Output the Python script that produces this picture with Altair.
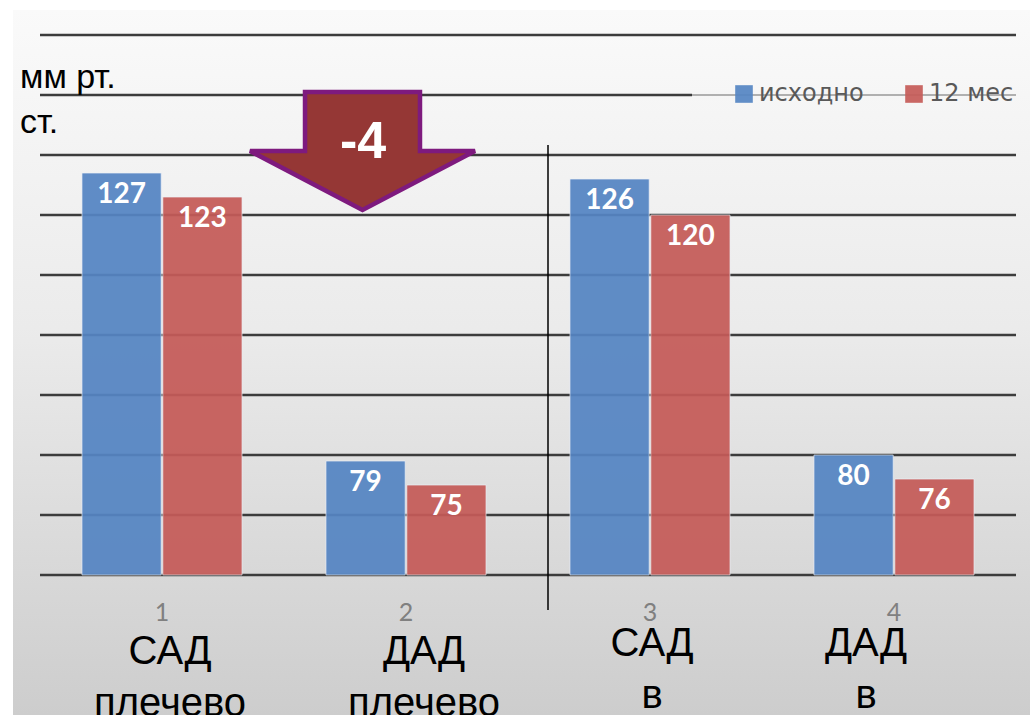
import altair as alt
import pandas as pd

# --- values -----------------------------------------------------------
groups = ["1", "2", "3", "4"]
series = ["исходно", "12 мес"]
start_vals = [127, 79, 126, 80]
month12_vals = [123, 75, 120, 76]
series_colors = ["#5585C3", "#C55B58"]
grid_ticks = [60, 70, 80, 90, 100, 110, 120, 130, 140, 150]
legend_tick = 140
cat_top = ["САД", "ДАД", "САД", "ДАД"]
cat_bottom = ["плечево", "плечево", "в", "в"]
unit_lines = ["мм рт.", "ст."]
change_text = "-4"

W, H = 976, 540
FONT_UI = "Lato"
FONT_LEG = "DejaVu Sans"
FONT_TXT = "Liberation Sans"

bars = pd.DataFrame(
    [{"grp": g, "series": series[0], "val": v} for g, v in zip(groups, start_vals)]
    + [{"grp": g, "series": series[1], "val": v} for g, v in zip(groups, month12_vals)]
)
grid_df = pd.DataFrame({"v": grid_ticks})

y_scale = alt.Scale(domain=[60, 150], nice=False, zero=False)
x_enc = alt.X(
    "grp:N",
    sort=groups,
    scale=alt.Scale(paddingInner=0.344, paddingOuter=0.172),
    axis=alt.Axis(
        title=None, domain=False, ticks=False, grid=False, labelAngle=0, zindex=2,
        labelFont=FONT_UI, labelFontSize=25, labelColor="#808080", labelPadding=25,
    ),
)
xoff_enc = alt.XOffset("series:N", sort=series, scale=alt.Scale(paddingInner=0.02))

# slide-style gradient panel
panel = alt.Chart(pd.DataFrame({"a": [0]})).mark_rect(
    fill=alt.Gradient(
        gradient="linear",
        stops=[
            alt.GradientStop(color="#FAFAFA", offset=0),
            alt.GradientStop(color="#EBEBEB", offset=0.45),
            alt.GradientStop(color="#CDCDCD", offset=1),
        ],
        x1=0, x2=0, y1=0, y2=1,
    )
).encode(x=alt.value(-27), x2=alt.value(W + 14), y=alt.value(-25), y2=alt.value(H + 140))

# horizontal grid lines (the one behind the legend is drawn thin on its right part)
grid_main = alt.Chart(grid_df).transform_filter(alt.datum.v != legend_tick).mark_rule(
    color="#3C3C3C", strokeWidth=2.6
).encode(y=alt.Y("v:Q", scale=y_scale, axis=None), x=alt.value(0), x2=alt.value(W))

grid_leg = alt.Chart(grid_df).transform_filter(alt.datum.v == legend_tick)
grid_leg_thick = grid_leg.mark_rule(color="#3C3C3C", strokeWidth=2.6).encode(
    y=alt.Y("v:Q", scale=y_scale, axis=None), x=alt.value(0), x2=alt.value(652)
)
grid_leg_thin = grid_leg.mark_rule(color="#6A6A6A", strokeWidth=1.2).encode(
    y=alt.Y("v:Q", scale=y_scale, axis=None), x=alt.value(652), x2=alt.value(W)
)

bar_layer = alt.Chart(bars).mark_bar(
    opacity=0.93, stroke="#EEF2F8", strokeWidth=1, strokeOpacity=0.7
).encode(
    x=x_enc,
    xOffset=xoff_enc,
    y=alt.Y("val:Q", scale=y_scale, axis=None),
    y2=alt.datum(60),
    color=alt.Color(
        "series:N",
        sort=series,
        scale=alt.Scale(domain=series, range=series_colors),
        legend=alt.Legend(
            title=None, orient="none", legendX=692, legendY=47, direction="horizontal",
            symbolType="square", symbolSize=310, symbolStrokeWidth=0,
            labelFont=FONT_LEG, labelFontSize=24, labelColor="#595959",
            labelOffset=3, columnPadding=38, padding=0,
        ),
    ),
)

value_labels = alt.Chart(bars).mark_text(
    font=FONT_UI, fontWeight="bold", fontSize=28, color="white", baseline="middle", dy=22
).encode(
    x=x_enc,
    xOffset=xoff_enc,
    y=alt.Y("val:Q", scale=y_scale, axis=None),
    text=alt.Text("val:Q"),
)

# two-line category captions under the axis numbers
cat_df = pd.DataFrame({"grp": groups, "cap": [f"{a}\n{b}" for a, b in zip(cat_top, cat_bottom)]})
cap_shift = {"1": (8, 629), "2": (18, 629), "3": (2, 621), "4": (-28, 621)}
caption_layers = []
for g in groups:
    dx, yy = cap_shift[g]
    caption_layers.append(
        alt.Chart(cat_df).transform_filter(alt.datum.grp == g).mark_text(
            font=FONT_TXT, fontSize=40, color="black", baseline="alphabetic",
            lineBreak="\n", lineHeight=52, dx=dx,
        ).encode(x=x_enc, y=alt.value(yy), text="cap:N")
    )

unit_label = alt.Chart(pd.DataFrame({"t": ["\n".join(unit_lines)]})).mark_text(
    font=FONT_TXT, fontSize=34, color="black", align="left", baseline="alphabetic",
    lineBreak="\n", lineHeight=45,
).encode(x=alt.value(-20), y=alt.value(53), text="t:N")

separator = alt.Chart(pd.DataFrame({"a": [0]})).mark_rule(color="black", strokeWidth=1.5).encode(
    x=alt.value(508), y=alt.value(110), y2=alt.value(575)
)

arrow_path = "M -0.511 -0.524 L 0.511 -0.524 L 0.511 0 L 1 0 L 0 0.524 L -1 0 L -0.511 0 Z"
arrow = alt.Chart(pd.DataFrame({"a": [0]})).mark_point(
    shape=arrow_path, filled=True, fill="#953735", fillOpacity=1,
    stroke="#7E1A7E", strokeWidth=4.5, strokeOpacity=1, strokeJoin="miter",
).encode(x=alt.value(322.5), y=alt.value(116), size=alt.value(225 * 225))

arrow_text = alt.Chart(pd.DataFrame({"t": [change_text]})).mark_text(
    font=FONT_TXT, fontWeight="bold", fontSize=52, color="white", baseline="middle"
).encode(x=alt.value(323), y=alt.value(107), text="t:N")

chart = alt.layer(
    panel, grid_main, grid_leg_thick, grid_leg_thin, bar_layer, value_labels,
    *caption_layers, unit_label, separator, arrow, arrow_text,
).properties(
    width=W, height=H,
    autosize=alt.AutoSizeParams(type="none"),
    padding={"left": 40, "top": 35, "right": 20, "bottom": 140},
    background="white",
).configure_view(stroke=None)

chart.save("out.html", embed_options={"renderer": "svg", "actions": False})
